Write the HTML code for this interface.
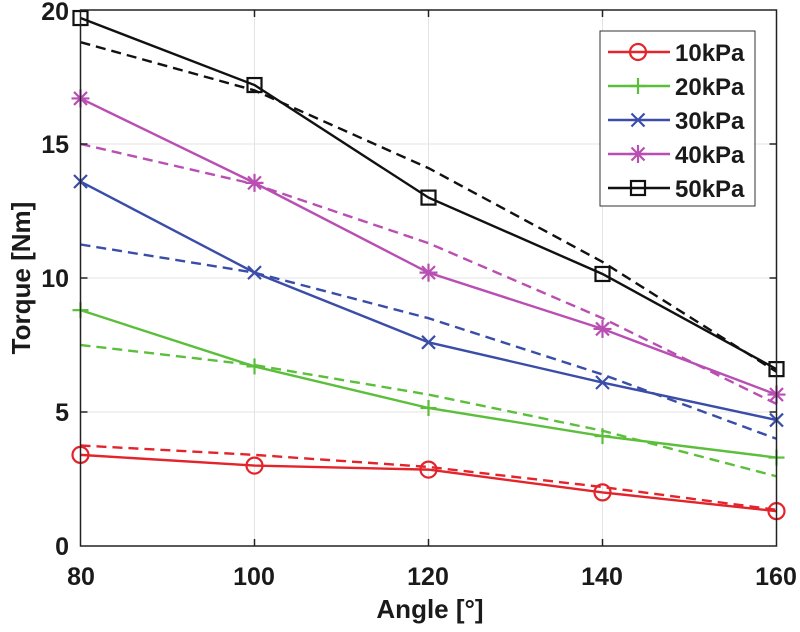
<!DOCTYPE html>
<html><head><meta charset="utf-8"><style>
html,body{margin:0;padding:0;background:#fff;}
svg{display:block;font-family:"Liberation Sans",Arial,sans-serif;font-weight:bold;}
</style></head><body>
<svg id="s" width="800" height="632" viewBox="0 0 800 632" xmlns="http://www.w3.org/2000/svg">
<rect x="0" y="0" width="800" height="632" fill="#fff"/>
<g id="grid" stroke="#e3e3e3" stroke-width="1"></g>
<g id="data"></g>
<rect x="80.5" y="10" width="696" height="536" fill="none" stroke="#222" stroke-width="1.5"/>
<g id="ticks" stroke="#222" stroke-width="1.5"></g>
<g font-size="25" fill="#1a1a1a" text-anchor="middle">
<text x="81" y="585">80</text><text x="254" y="585">100</text><text x="428" y="585">120</text><text x="602" y="585">140</text><text x="776" y="585">160</text>
</g>
<g font-size="25" fill="#1a1a1a" text-anchor="end">
<text x="69" y="555">0</text><text x="69" y="421">5</text><text x="69" y="287">10</text><text x="69" y="153">15</text><text x="69" y="20">20</text>
</g>
<text x="430" y="618" font-size="26" text-anchor="middle" fill="#1a1a1a">Angle [°]</text>
<text transform="translate(30,278) rotate(-90)" font-size="26" text-anchor="middle" fill="#1a1a1a">Torque [Nm]</text>
<rect x="600" y="31" width="155" height="175" fill="#fff" stroke="#333" stroke-width="1"/>
<g id="leg"></g>
</svg>
<script>
const NS="http://www.w3.org/2000/svg";
const X=a=>80.5+(a-80)*8.7, Y=v=>546-v*26.8;
function el(p,t,a){const e=document.createElementNS(NS,t);for(const k in a)e.setAttribute(k,a[k]);p.appendChild(e);return e;}
const g=document.getElementById('grid'),tk=document.getElementById('ticks');
[100,120,140].forEach(a=>{el(g,'line',{x1:X(a),x2:X(a),y1:10,y2:546});el(tk,'line',{x1:X(a),x2:X(a),y1:546,y2:539});el(tk,'line',{x1:X(a),x2:X(a),y1:10,y2:17});});
[5,10,15].forEach(v=>{el(g,'line',{x1:80.5,x2:776.5,y1:Y(v),y2:Y(v)});el(tk,'line',{x1:80.5,x2:87.5,y1:Y(v),y2:Y(v)});el(tk,'line',{x1:776.5,x2:769.5,y1:Y(v),y2:Y(v)});});
const A=[80,100,120,140,160];
const S=[
 {c:'#e3242b',m:'o',d:[3.4,3.0,2.85,2.0,1.3],f:[3.75,3.4,2.95,2.2,1.35],n:'10kPa'},
 {c:'#5cbf3b',m:'+',d:[8.8,6.7,5.15,4.1,3.3],f:[7.5,6.75,5.65,4.3,2.6],n:'20kPa'},
 {c:'#3a4da8',m:'x',d:[13.6,10.2,7.6,6.1,4.7],f:[11.25,10.2,8.5,6.4,4.0],n:'30kPa'},
 {c:'#b94fb3',m:'*',d:[16.7,13.55,10.2,8.1,5.65],f:[15.0,13.5,11.3,8.5,5.3],n:'40kPa'},
 {c:'#111',m:'s',d:[19.7,17.2,13.0,10.15,6.6],f:[18.8,17.0,14.1,10.6,6.5],n:'50kPa'}];
function mark(p,m,x,y,c){
 const a={fill:'none',stroke:c,'stroke-width':2.2};
 if(m=='o')el(p,'circle',Object.assign({cx:x,cy:y,r:8},a));
 if(m=='s')el(p,'rect',Object.assign({x:x-7,y:y-7,width:14,height:14},a));
 if(m=='+'){el(p,'line',Object.assign({x1:x-8,x2:x+8,y1:y,y2:y},a));el(p,'line',Object.assign({x1:x,x2:x,y1:y-8,y2:y+8},a));}
 if(m=='x'||m=='*'){el(p,'line',Object.assign({x1:x-6.5,x2:x+6.5,y1:y-6.5,y2:y+6.5},a));el(p,'line',Object.assign({x1:x-6.5,x2:x+6.5,y1:y+6.5,y2:y-6.5},a));}
 if(m=='*'){el(p,'line',Object.assign({x1:x-9,x2:x+9,y1:y,y2:y},a));el(p,'line',Object.assign({x1:x,x2:x,y1:y-9,y2:y+9},a));}
}
const D=document.getElementById('data'),L=document.getElementById('leg');
S.forEach((s,i)=>{
 el(D,'polyline',{points:A.map((a,j)=>X(a)+','+Y(s.f[j])).join(' '),fill:'none',stroke:s.c,'stroke-width':2.4,'stroke-dasharray':'10,6'});
 el(D,'polyline',{points:A.map((a,j)=>X(a)+','+Y(s.d[j])).join(' '),fill:'none',stroke:s.c,'stroke-width':2.4});
 A.forEach((a,j)=>mark(D,s.m,X(a),Y(s.d[j]),s.c));
 const y=52+i*34;
 el(L,'line',{x1:608,x2:670,y1:y,y2:y,stroke:s.c,'stroke-width':2.4});
 mark(L,s.m,638,y,s.c);
 const t=el(L,'text',{x:675,y:y+9,'font-size':24,fill:'#1a1a1a'});t.textContent=s.n;
});
</script>
</body></html>
